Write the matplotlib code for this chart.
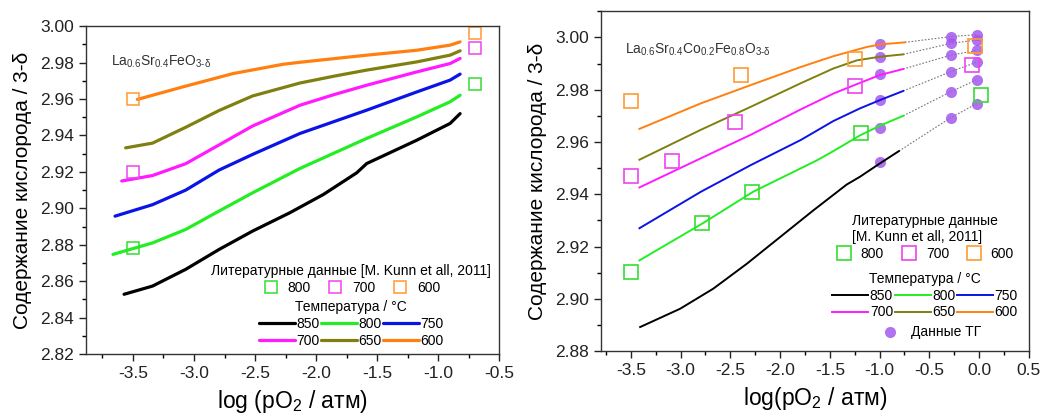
import matplotlib
matplotlib.use("Agg")
import matplotlib.pyplot as plt
from matplotlib.ticker import MultipleLocator, FormatStrFormatter

plt.rcParams['font.family'] = ['Liberation Sans', 'DejaVu Sans']
plt.rcParams['mathtext.fontset'] = 'custom'
plt.rcParams['mathtext.rm'] = 'Liberation Sans'
plt.rcParams['mathtext.it'] = 'Liberation Sans:italic'
plt.rcParams['mathtext.default'] = 'regular'

temps = ['850', '800', '750', '700', '650', '600']
colors = ['#000000', '#22ee22', '#0a14e6', '#ff1aff', '#808010', '#ff8010']

# ---- Left panel: La0.6Sr0.4FeO3-d ----
L_x = {
    '850': [-3.573, -3.34, -3.068, -2.795, -2.52, -2.214, -1.94, -1.667, -1.585, -1.175, -0.902, -0.82],
    '800': [-3.664, -3.34, -3.068, -2.795, -2.52, -2.132, -1.585, -1.175, -0.902, -0.82],
    '750': [-3.647, -3.34, -3.068, -2.795, -2.52, -2.132, -1.585, -1.175, -0.902, -0.82],
    '700': [-3.592, -3.34, -3.068, -2.795, -2.52, -2.132, -1.85, -1.585, -1.175, -0.902, -0.82],
    '650': [-3.56, -3.34, -3.068, -2.795, -2.52, -2.132, -1.85, -1.585, -1.175, -0.902, -0.82],
    '600': [-3.464, -3.09, -2.68, -2.27, -2.132, -1.585, -1.175, -0.902, -0.82],
}
L_y = {
    '850': [2.8528, 2.8573, 2.8665, 2.8774, 2.8875, 2.8976, 2.9076, 2.9195, 2.9246, 2.9374, 2.9466, 2.952],
    '800': [2.8747, 2.881, 2.8884, 2.8985, 2.9085, 2.9219, 2.9384, 2.9502, 2.9585, 2.9621],
    '750': [2.8957, 2.902, 2.910, 2.921, 2.9296, 2.9411, 2.9539, 2.9639, 2.9704, 2.9737],
    '700': [2.915, 2.918, 2.9245, 2.9348, 2.9452, 2.9566, 2.9625, 2.9676, 2.9749, 2.9795, 2.9823],
    '650': [2.9332, 2.9358, 2.9445, 2.9537, 2.9617, 2.9688, 2.9726, 2.9759, 2.9804, 2.9841, 2.9865],
    '600': [2.9598, 2.9667, 2.974, 2.9791, 2.9802, 2.9841, 2.9868, 2.9896, 2.9914],
}
lit_temps = ['800', '700', '600']
lit_colors = ['#33dd33', '#ee44ee', '#ff9933']
L_lit_x = {'800': [-3.5, -0.70], '700': [-3.5, -0.70], '600': [-3.5, -0.70]}
L_lit_y = {'800': [2.878, 2.9685], '700': [2.920, 2.988], '600': [2.960, 2.996]}

# ---- Right panel: La0.6Sr0.4Co0.2Fe0.8O3-d ----
R_x = {
    '850': [-3.407, -3.005, -2.671, -2.335, -2.001, -1.667, -1.331, -1.197, -0.997, -0.806],
    '800': [-3.414, -2.777, -2.269, -1.633, -1.465, -1.197, -0.997, -0.763],
    '750': [-3.414, -2.794, -2.292, -1.79, -1.465, -1.2, -0.997, -0.763],
    '700': [-3.414, -2.794, -2.292, -1.79, -1.465, -1.25, -0.997, -0.763],
    '650': [-3.414, -2.794, -2.292, -1.79, -1.465, -1.23, -0.997, -0.763],
    '600': [-3.414, -2.794, -2.292, -1.79, -1.465, -1.131, -0.997, -0.746],
}
R_y = {
    '850': [2.8892, 2.8962, 2.9039, 2.9134, 2.9236, 2.9338, 2.9437, 2.9467, 2.9518, 2.9565],
    '800': [2.9147, 2.9289, 2.941, 2.9529, 2.9565, 2.9625, 2.9662, 2.970],
    '750': [2.927, 2.941, 2.9512, 2.9608, 2.968, 2.9728, 2.976, 2.9795],
    '700': [2.9426, 2.9538, 2.9628, 2.9725, 2.9785, 2.9818, 2.9856, 2.9879],
    '650': [2.9532, 2.9647, 2.9735, 2.9825, 2.9881, 2.9912, 2.9926, 2.9935],
    '600': [2.965, 2.9748, 2.9818, 2.9887, 2.9928, 2.9963, 2.9973, 2.9981],
}
R_lit_x = {'800': [-3.5, -2.787, -2.278, -1.19, 0.018],
           '700': [-3.5, -3.085, -2.452, -1.25, -0.07],
           '600': [-3.5, -2.392, -1.25, -0.043]}
R_lit_y = {'800': [2.9102, 2.9289, 2.941, 2.9633, 2.978],
           '700': [2.9471, 2.9529, 2.9675, 2.9813, 2.9895],
           '600': [2.9758, 2.9855, 2.9919, 2.9966]}
# TG data
TG_x = [-0.997, -0.284, -0.026]
TG_y = {
    '850': [2.9523, 2.9693, 2.9746],
    '800': [2.9652, 2.9792, 2.9838],
    '750': [2.976, 2.9869, 2.9905],
    '700': [2.9859, 2.9932, 2.995],
    '650': [2.9924, 2.9977, 2.999],
    '600': [2.9975, 3.0003, 3.001],
}

fig = plt.figure(figsize=(10.46, 4.16), dpi=100)
ax1 = fig.add_axes([0.0822, 0.149, 0.395, 0.788])
ax2 = fig.add_axes([0.5746, 0.156, 0.409, 0.817])

tick_fs = 12.5
xlabel_fs = 16.5
ylabel_fs = 15
leg_fs = 10

def style(ax):
    ax.tick_params(which='major', direction='out', length=5, width=1, labelsize=tick_fs,
                   top=False, right=False, colors='#222222')
    ax.tick_params(which='minor', direction='out', length=3, width=1, top=False, right=False)
    ax.xaxis.set_major_locator(MultipleLocator(0.5))
    ax.xaxis.set_minor_locator(MultipleLocator(0.25))
    ax.yaxis.set_major_locator(MultipleLocator(0.02))
    ax.yaxis.set_minor_locator(MultipleLocator(0.01))
    for s in ax.spines.values():
        s.set_linewidth(1.0)
        s.set_color('#333333')
    ax.xaxis.set_major_formatter(FormatStrFormatter('%.1f'))
    ax.yaxis.set_major_formatter(FormatStrFormatter('%.2f'))

def rowwise(items, ncol=3):
    # reorder so matplotlib's column-major legend fill reads row by row
    nrow = (len(items) + ncol - 1) // ncol
    return [items[r * ncol + c] for c in range(ncol) for r in range(nrow)]

# ----- left -----
line_handles = []
for t, c in zip(temps, colors):
    h, = ax1.plot(L_x[t], L_y[t], color=c, lw=2.3, solid_capstyle='round', solid_joinstyle='round')
    line_handles.append(h)
sq_handles = []
for t, c in zip(lit_temps, lit_colors):
    h, = ax1.plot(L_lit_x[t], L_lit_y[t], ls='none', marker='s', ms=8.5, mfc='none',
                  mec=c, mew=1.1)
    sq_handles.append(h)
ax1.set_xlim(-3.885, -0.5)
ax1.set_ylim(2.82, 3.00)
style(ax1)
ax1.set_xlabel(r'log (pO$_2$ / атм)', fontsize=xlabel_fs, labelpad=5)
ax1.set_ylabel('Содержание кислорода / 3-δ', fontsize=ylabel_fs, labelpad=6)
ax1.text(0.06, 0.88, r'La$_{0.6}$Sr$_{0.4}$FeO$_{3\text{-}\delta}$', transform=ax1.transAxes,
         fontsize=10, color='#333333')

lg1 = ax1.legend(sq_handles, lit_temps, title='Литературные данные [M. Kunn et all, 2011]',
                 ncol=3, frameon=False, fontsize=leg_fs, title_fontsize=leg_fs,
                 loc='center', bbox_to_anchor=(0.642, 0.228), handletextpad=0.6,
                 columnspacing=1.2, borderpad=0.1, labelspacing=0.2, handlelength=1.2)
ax1.add_artist(lg1)
lg2 = ax1.legend(rowwise(line_handles), rowwise(temps), title='Температура / °C', ncol=3,
                 frameon=False, fontsize=leg_fs, title_fontsize=leg_fs, loc='center',
                 bbox_to_anchor=(0.642, 0.092), handlelength=2.6, handletextpad=0.1,
                 columnspacing=0.1, borderpad=0.1, labelspacing=0.2)

# ----- right -----
for t in temps:
    xs = [R_x[t][-1]] + TG_x[1:]
    ys = [R_y[t][-1]] + TG_y[t][1:]
    ax2.plot(xs, ys, ls=(0, (1.5, 1.5)), color='#777777', lw=0.8, zorder=1)
tg_handle = None
for t in temps:
    tg_handle, = ax2.plot(TG_x, TG_y[t], ls='none', marker='o', ms=8, color='#a259ec',
                          alpha=0.85, mec='none', zorder=2)
line_handles2 = []
for t, c in zip(temps, colors):
    h, = ax2.plot(R_x[t], R_y[t], color=c, lw=1.4, zorder=3, solid_joinstyle='round')
    line_handles2.append(h)
sq_handles2 = []
for t, c in zip(lit_temps, lit_colors):
    h, = ax2.plot(R_lit_x[t], R_lit_y[t], ls='none', marker='s', ms=9.5, mfc='none',
                  mec=c, mew=1.2, zorder=4)
    sq_handles2.append(h)
ax2.set_xlim(-3.8, 0.5)
ax2.set_ylim(2.88, 3.01)
style(ax2)
ax2.set_xlabel(r'log(pO$_2$ / атм)', fontsize=xlabel_fs, labelpad=5)
ax2.set_ylabel('Содержание кислорода / 3-δ', fontsize=ylabel_fs, labelpad=6)
ax2.text(0.055, 0.875, r'La$_{0.6}$Sr$_{0.4}$Co$_{0.2}$Fe$_{0.8}$O$_{3\text{-}\delta}$',
         transform=ax2.transAxes, fontsize=10, color='#333333')

rg1 = ax2.legend(sq_handles2, lit_temps, title='Литературные данные\n[M. Kunn et all, 2011]',
                 ncol=3, frameon=False, fontsize=leg_fs, title_fontsize=leg_fs,
                 loc='center', bbox_to_anchor=(0.757, 0.335), handletextpad=0.6,
                 columnspacing=1.2, borderpad=0.1, labelspacing=0.2, handlelength=1.2)
ax2.add_artist(rg1)
rg2 = ax2.legend(rowwise(line_handles2), rowwise(temps), title='Температура / °C', ncol=3,
                 frameon=False, fontsize=leg_fs, title_fontsize=leg_fs, loc='center',
                 bbox_to_anchor=(0.757, 0.163), handlelength=2.6, handletextpad=0.1,
                 columnspacing=0.1, borderpad=0.1, labelspacing=0.2)
ax2.add_artist(rg2)
rg3 = ax2.legend([tg_handle], ['Данные ТГ'], frameon=False, fontsize=leg_fs, loc='center',
                 bbox_to_anchor=(0.77, 0.055), handlelength=1.5, handletextpad=0.8,
                 borderpad=0.1)

fig.savefig('out.png', dpi=100)
